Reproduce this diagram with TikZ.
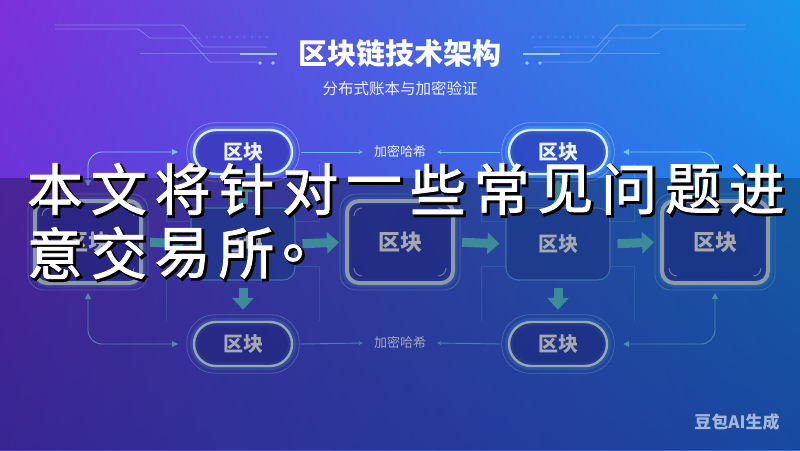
\documentclass[tikz,border=0pt]{standalone}
\usepackage{fontspec}
\newfontfamily\cjk{Noto Sans CJK SC}
\newfontfamily\cjkpinzell{Noto Sans CJK SC}[FakeBold=1.5]
\newfontfamily\cjkgruixa{Noto Sans CJK SC}[FakeBold=4.5]
\usetikzlibrary{arrows.meta,shadings}

\definecolor{fonsA}{RGB}{125,48,218}
\definecolor{fonsB}{RGB}{24,150,236}
\definecolor{fonsC}{RGB}{82,55,212}
\definecolor{fonsD}{RGB}{35,105,232}
\definecolor{linia}{RGB}{215,240,255}
\definecolor{brillant}{RGB}{90,200,255}
\definecolor{farciment}{RGB}{40,52,170}
\definecolor{textclar}{RGB}{236,242,252}
\definecolor{vorcaixa}{RGB}{200,222,238}
\definecolor{vorfosca}{RGB}{95,160,240}
\definecolor{fillfosca}{RGB}{40,80,195}
\definecolor{verdblau}{RGB}{88,200,220}
\definecolor{bucleblau}{RGB}{110,200,245}
\definecolor{hashblau}{RGB}{100,190,245}
\definecolor{deco}{RGB}{160,185,255}

\tikzset{
  pastilla/.style={draw=linia, line width=2.4pt, fill=farciment, fill opacity=0.55,
    text opacity=1, text=textclar, rounded corners=22pt,
    minimum width=98pt, minimum height=44pt,
    font=\cjk\bfseries\fontsize{20}{20}\selectfont,
    preaction={draw=brillant, line width=8pt, draw opacity=0.25, rounded corners=22pt}},
  caixa/.style={draw=vorcaixa, line width=4pt, fill=farciment, fill opacity=0.6,
    text opacity=1, text=textclar, rounded corners=12pt,
    minimum width=106pt, minimum height=82pt,
    font=\cjk\bfseries\fontsize{22}{22}\selectfont,
    preaction={draw=brillant, line width=9pt, draw opacity=0.2, rounded corners=12pt}},
  fosca/.style={draw=vorfosca, line width=1.1pt, fill=fillfosca, fill opacity=0.7,
    text opacity=1, text=textclar, rounded corners=12pt,
    minimum width=104pt, minimum height=72pt,
    font=\cjk\bfseries\fontsize{20}{20}\selectfont},
  anell/.style={draw=brillant!60!white, line width=0.8pt, draw opacity=0.45},
  hash/.style={text=textclar, inner xsep=11pt, font=\cjk\fontsize{13}{13}\selectfont},
  hashlinia/.style={draw=hashblau, line width=0.9pt, -{Stealth[length=4pt,width=4pt]}},
  fletxa/.style={draw=verdblau, line width=9pt, -{Triangle[length=12pt,width=21pt]},
    shorten <=7pt, shorten >=6pt},
  bucle/.style={draw=bucleblau, line width=0.9pt, rounded corners=14pt,
    {Triangle[length=6pt,width=6pt]}-{Triangle[length=6pt,width=6pt]}},
  guia/.style={draw=brillant, line width=0.6pt, draw opacity=0.3},
  titol/.style={text=white, font=\cjk\bfseries\fontsize{29}{29}\selectfont},
  subtitol/.style={text=textclar, font=\cjk\fontsize{15.5}{15.5}\selectfont},
  lletra/.style={text=white, inner sep=0pt, font=\cjkpinzell\fontsize{56}{56}\selectfont},
  ombra/.style={text=black, inner sep=0pt, font=\cjkgruixa\fontsize{56}{56}\selectfont},
  marca/.style={text=white, text opacity=0.6, font=\cjk\bfseries\fontsize{17}{17}\selectfont}
}

\begin{document}
\begin{tikzpicture}[x=1pt,y=-1pt]
  % Fons
  \shade[upper left=fonsA, upper right=fonsB, lower left=fonsC, lower right=fonsD]
    (0,0) rectangle (800,450);
  \useasboundingbox (0,0) rectangle (800,450);

  % Linies de circuit
  \foreach \s in {1,-1} {
    \begin{scope}[shift={(400,0)}, xscale=\s]
      \draw[deco, opacity=0.55, line width=0.7pt] (-345,25) -- (-217,25) -- (-197,47) -- (-133,47);
      \draw[deco, opacity=0.5, line width=0.7pt] (-345,29) -- (-262,29) -- (-250,38) -- (-200,38);
      \draw[deco, opacity=0.4, line width=0.7pt] (-260,53) -- (-160,53);
      \draw[deco, opacity=0.55, line width=0.7pt] (-210,40) -- (-190,62) -- (-143,62);
      \draw[brillant!50!white, opacity=0.8, line width=1.8pt] (-160,54) -- (-123,54);
      \fill[brillant!50!white, opacity=0.8] (-140,63) circle (1.8) (-127,63) circle (1.8);
      \foreach \d in {0,...,8}
        \fill[deco, opacity=0.35] (-193+7.5*\d,37) circle (0.8);
    \end{scope}
  }

  % Titol
  \node[titol] (tt) at (400,53) {区块链技术架构};
  \node[subtitol] (st) at (400,89) {分布式账本与加密验证};

  % Fila de dalt
  \node[pastilla] (t1) at (243,152) {区块};
  \node[pastilla] (t2) at (558,152) {区块};
  \node[hash] (h1) at (400,152) {加密哈希};

  % Fila del mig
  \node[caixa] (m1) at (88,242) {区块};
  \node[fosca] (m2) at (243,244) {区块};
  \node[caixa] (m3) at (400,242) {区块};
  \node[fosca] (m4) at (558,244) {区块};
  \node[caixa] (m5) at (715,242) {区块};

  % Fila de baix
  \node[pastilla] (b1) at (243,344) {区块};
  \node[pastilla] (b2) at (558,344) {区块};
  \node[hash] (h2) at (400,343) {加密哈希};

  % Anells exteriors
  \foreach \n in {t1,t2,b1,b2}
    \draw[anell, rounded corners=28pt] ([xshift=-6pt,yshift=6pt]\n.north west)
      rectangle ([xshift=6pt,yshift=-6pt]\n.south east);
  \foreach \n in {m1,m3,m5} {
    \draw[anell, rounded corners=16pt] ([xshift=-5pt,yshift=5pt]\n.north west)
      rectangle ([xshift=5pt,yshift=-5pt]\n.south east);
    \draw[vorcaixa, line width=1pt, opacity=0.7]
      ([xshift=9pt,yshift=-17pt]\n.north west) arc[start angle=180, end angle=90, radius=8pt]
      ([xshift=-17pt,yshift=-9pt]\n.north east) arc[start angle=90, end angle=0, radius=8pt]
      ([xshift=-9pt,yshift=17pt]\n.south east) arc[start angle=0, end angle=-90, radius=8pt]
      ([xshift=17pt,yshift=9pt]\n.south west) arc[start angle=270, end angle=180, radius=8pt];
  }

  % Guies febles
  \foreach \n in {m2,m4} {
    \draw[guia] ([xshift=-24pt,yshift=43pt]\n.north west) -- ([xshift=-24pt,yshift=-14pt]\n.north west)
      -- ([yshift=-14pt]\n.north west);
    \draw[guia] ([yshift=14pt]\n.south west) -- ([xshift=-24pt,yshift=14pt]\n.south west)
      -- ([xshift=-24pt,yshift=-40pt]\n.south west);
    \draw[guia] ([xshift=24pt,yshift=43pt]\n.north east) -- ([xshift=24pt,yshift=-14pt]\n.north east)
      -- ([yshift=-14pt]\n.north east);
    \draw[guia] ([yshift=14pt]\n.south east) -- ([xshift=24pt,yshift=14pt]\n.south east)
      -- ([xshift=24pt,yshift=-40pt]\n.south east);
  }

  % Hash
  \draw[hashlinia] ([xshift=8pt]t1.east) -- (h1.west);
  \draw[hashlinia] ([xshift=-8pt]t2.west) -- (h1.east);
  \draw[hashlinia] ([xshift=8pt]b1.east) -- (h2.west);
  \draw[hashlinia] ([xshift=-8pt]b2.west) -- (h2.east);

  % Fletxes de la cadena
  \foreach \a/\b in {m1/m2,m2/m3,m3/m4,m4/m5}
    \draw[fletxa] (\a.east) -- (\b.west);
  \foreach \a/\t/\b in {m2/t1/b1,m4/t2/b2} {
    \draw[fletxa, shorten <=3pt, shorten >=5pt] (\a.north) -- (\t.south);
    \draw[fletxa, shorten >=11pt] (\a.south) -- (\b.north);
  }

  % Bucles laterals
  \draw[bucle] ([yshift=13pt]m1.north) |- ([xshift=-15pt]t1.west);
  \draw[bucle] ([yshift=-8pt]m1.south) |- ([xshift=-15pt]b1.west);
  \draw[bucle] ([yshift=13pt]m5.north) |- ([xshift=15pt]t2.east);
  \draw[bucle] ([yshift=-8pt]m5.south) |- ([xshift=15pt]b2.east);

  % Banda fosca
  \fill[black, opacity=0.3] (0,178) rectangle (800,450);

  % Text sobreposat
  \foreach \c [count=\i from 0] in {本,文,将,针,对,一,些,常,见,问,题,进} {
    \node[ombra] (o\i) at (57+63.8*\i,191) {\c};
    \node[lletra] (w\i) at (55+63.8*\i,189) {\c};
  }
  \foreach \c [count=\i from 0] in {意,交,易,所,。} {
    \node[ombra] (p\i) at (57+63.8*\i,255) {\c};
    \node[lletra] (v\i) at (55+63.8*\i,253) {\c};
  }

  % Marca
  \node[marca] (wm) at (737,422) {豆包AI生成};
\end{tikzpicture}
\end{document}
